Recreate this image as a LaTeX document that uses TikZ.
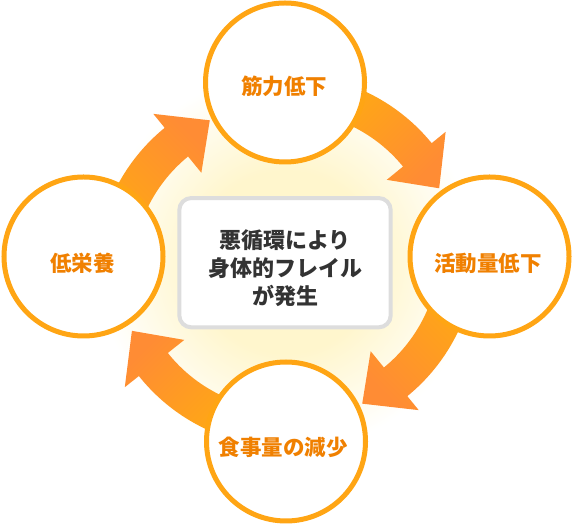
\documentclass[tikz,border=0pt]{standalone}
\usepackage{fontspec}
\newfontfamily\jp{Noto Sans CJK JP}
\definecolor{ringc}{RGB}{255,165,20}
\definecolor{labc}{RGB}{240,128,0}
\definecolor{arrY}{RGB}{255,172,16}
\definecolor{arrR}{RGB}{255,140,52}
\definecolor{glowc}{RGB}{255,246,205}
\definecolor{boxc}{RGB}{221,221,221}
\definecolor{txtc}{RGB}{51,51,51}
\pgfdeclareradialshading{glowshade}{\pgfpoint{0bp}{0bp}}{color(0bp)=(glowc);color(12bp)=(glowc);color(25bp)=(white);color(50bp)=(white)}
% #1 cx, #2 cy, #3 tail angle, #4 head base angle, #5 tip angle, #6 shading angle
\newcommand\cyclearrow[6]{%
  \shade[top color=arrY,bottom color=arrR,shading angle=#6]
    ([shift={(#1,#2)}]#3:188) arc[start angle=#3,end angle=#4,radius=188]
    -- ([shift={(#1,#2)}]#4:206) -- ([shift={(#1,#2)}]#5:170)
    -- ([shift={(#1,#2)}]#4:130) -- ([shift={(#1,#2)}]#4:151)
    arc[start angle=#4,end angle=#3,radius=151] -- cycle;}
\tikzset{
  ring/.style={circle,draw=ringc,line width=5pt,fill=white,minimum size=159pt,inner sep=0pt},
  ringlabel/.style={text=labc,font=\jp\bfseries\fontsize{21.5}{26}\selectfont,inner sep=0pt},
  centerbox/.style={draw=boxc,line width=4pt,fill=white,rounded corners=12pt,minimum width=211.4pt,minimum height=129.3pt,inner sep=0pt},
  centertext/.style={text=txtc,font=\jp\bfseries\fontsize{22}{28}\selectfont,align=center,inner sep=0pt}
}
\begin{document}
\begin{tikzpicture}[x=1pt,y=1pt]
\useasboundingbox (0,0) rectangle (572,526);
% glow
\shade[shading=glowshade] (286,264) circle[radius=190];
% arrows
\cyclearrow{286}{264}{80}{39.2}{25.7}{45}
\cyclearrow{288.5}{275.5}{-5}{-50.8}{-64.3}{-45}
\cyclearrow{286}{267}{260}{218.5}{205}{-135}
\cyclearrow{283.5}{252.5}{175}{129.2}{115.7}{135}
% center box
\node[centerbox] (box) at (285,263.3) {};
\node[centertext] (boxtext) at (285,258) {悪循環により\\身体的フレイル\\が発生};
% circles
\node[ring] (top) at (285,443.5) {};
\node[ring] (right) at (489.5,269.5) {};
\node[ring] (bottom) at (286,84.5) {};
\node[ring] (left) at (83.5,269.5) {};
\node[ringlabel] (toplab) at (284,440) {筋力低下};
\node[ringlabel] (rightlab) at (488,263) {活動量低下};
\node[ringlabel] (bottomlab) at (283,79) {食事量の減少};
\node[ringlabel] (leftlab) at (82.5,263) {低栄養};
\end{tikzpicture}
\end{document}
